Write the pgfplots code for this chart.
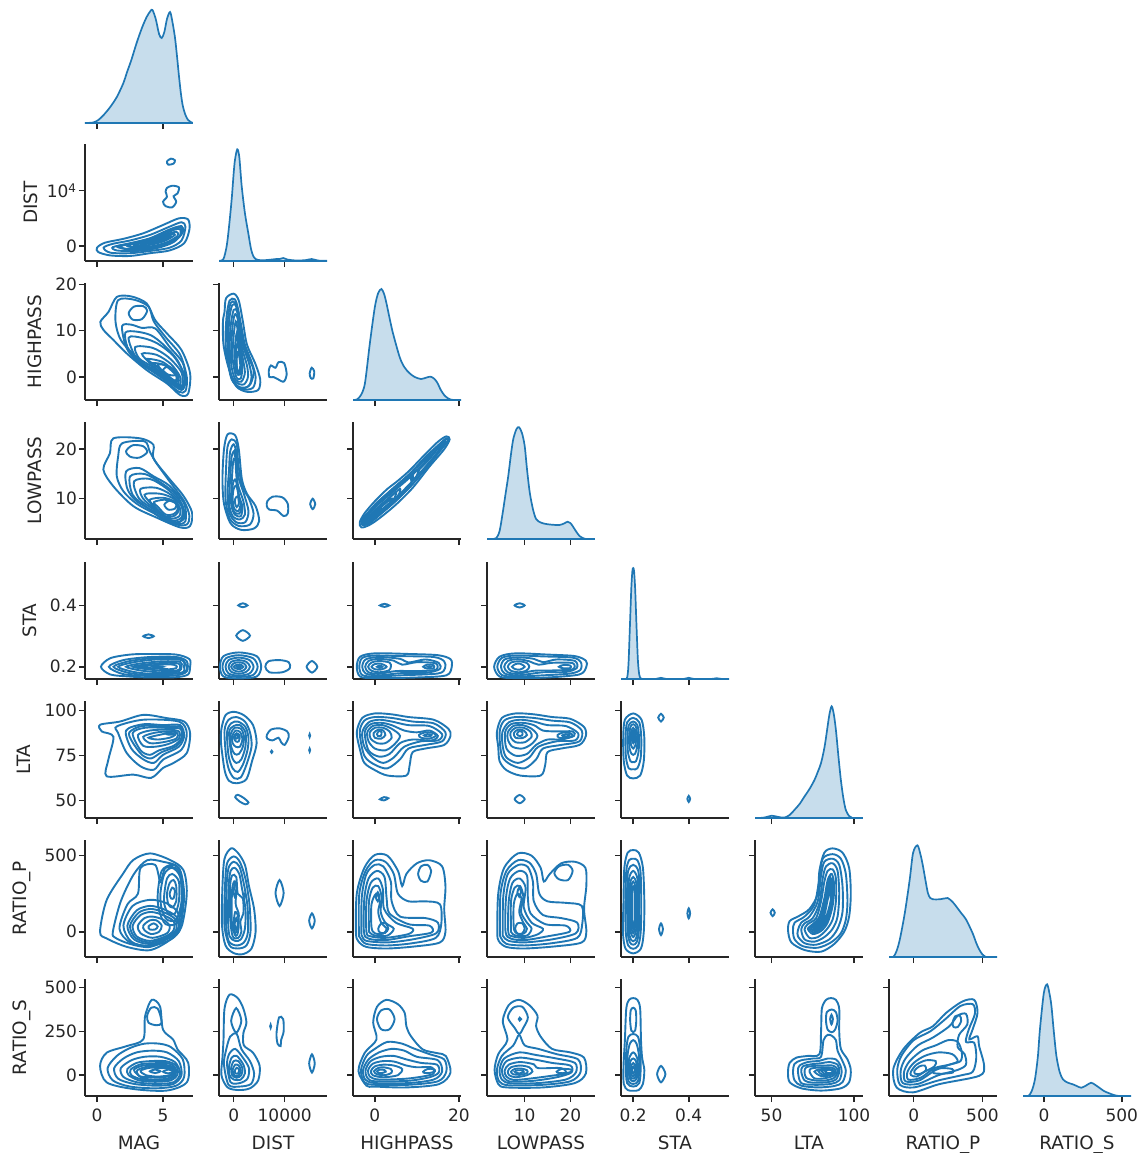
\documentclass[border=0pt]{standalone}
\usepackage{fontspec}
\setmainfont{DejaVu Sans}
\usepackage{pgfplots}
\pgfplotsset{compat=1.18}
\definecolor{sb}{HTML}{1F77B4}
\definecolor{ax}{HTML}{262626}
\pgfplotsset{
 pp/.style={scale only axis, width=54pt, height=58.5pt, anchor=north west,
   axis x line*=bottom, axis y line*=left, axis line style={-, line width=0.9pt, ax},
   tick align=outside, major tick length=3pt, tick style={line width=0.75pt, ax},
   ticklabel style={font=\fontsize{8.5}{9}\selectfont, text=ax},
   yticklabel style={inner xsep=0.8pt},
   label style={font=\fontsize{9.2}{10}\selectfont, text=ax},
   ylabel style={inner sep=5.8pt},
   /pgf/number format/assume math mode=true, /pgf/number format/1000 sep={},
   scaled ticks=false, xticklabels={}, yticklabels={}},
 dg/.style={pp, axis y line=none, ymin=0, ymax=117},
 cl/.style={draw=sb, line width=0.95pt, smooth cycle, tension=0.5},
 kd/.style={draw=sb, fill=sb!25, line width=0.85pt, smooth, tension=0.5},
 c1/.style={xmin=-0.91,xmax=7.27,xtick={0,5}},
 c2/.style={xmin=-2880,xmax=18300,xtick={0,10000}},
 c3/.style={xmin=-5.2,xmax=20.5,xtick={0,20}},
 c4/.style={xmin=1.74,xmax=25.4,xtick={10,20}},
 c5/.style={xmin=0.156,xmax=0.545,xtick={0.2,0.4}},
 c6/.style={xmin=40,xmax=105.4,xtick={50,100}},
 c7/.style={xmin=-180,xmax=606,xtick={0,500}},
 c8/.style={xmin=-136,xmax=559,xtick={0,500}},
 r2/.style={ymin=-2710,ymax=18440,ytick={0,10000}},
 r3/.style={ymin=-4.97,ymax=20.3,ytick={0,10,20}},
 r4/.style={ymin=1.86,ymax=25.5,ytick={10,20}},
 r5/.style={ymin=0.16,ymax=0.543,ytick={0.2,0.4}},
 r6/.style={ymin=40.4,ymax=105.4,ytick={50,75,100}},
 r7/.style={ymin=-166,ymax=603,ytick={0,500}},
 r8/.style={ymin=-119,ymax=549,ytick={0,250,500}},
}
\begin{document}
\begin{tikzpicture}
\useasboundingbox (0pt,0pt) rectangle (572.5pt,-576.5pt);
% ---------- Row 1
\begin{axis}[dg, c1, at={(42.5pt,-3pt)}]
\addplot[kd] coordinates {(-0.91,0)(-0.3,0.5)(0.1,3)(0.5,8)(1.0,16)(1.5,26)(2.0,40)(2.25,50)(2.6,63)(3.0,80)(3.4,95)(3.76,106)(4.05,112)(4.2,113)(4.45,104)(4.7,89)(4.9,85)(5.1,91)(5.3,104)(5.53,111)(5.7,102)(5.9,86)(6.05,68)(6.2,48)(6.35,30)(6.5,17)(6.7,8)(6.9,3)(7.1,1)(7.27,0)} \closedcycle;
\end{axis}
% ---------- Row 2
\begin{axis}[pp, c1, r2, at={(42.5pt,-72pt)}, ylabel={DIST}, ylabel style={inner sep=3.4pt}, yticklabels={0,10\textsuperscript{4}}]
\addplot[cl] coordinates {(0,-300)(0.6,600)(2,1300)(3.5,2300)(5,3800)(6.2,5000)(6.9,4800)(7,3000)(6.6,500)(5.5,-800)(4,-1300)(2.5,-1800)(1,-1700)(0.1,-1100)};
\addplot[cl] coordinates {(0.5,-300)(1.2,400)(2.5,1000)(4,2000)(5.5,3500)(6.4,4300)(6.7,3500)(6.4,1000)(5.5,-300)(4,-900)(2.5,-1300)(1,-1200)};
\addplot[cl] coordinates {(1.2,-200)(2.5,500)(4,1400)(5.5,3000)(6.4,3600)(6.5,2500)(5.8,700)(4.5,-400)(3,-900)(1.5,-800)};
\addplot[cl] coordinates {(1.5,-100)(2.7,550)(4.2,1450)(5.6,2950)(6.35,3300)(6.35,2000)(5.4,450)(4,-400)(2.6,-700)};
\addplot[cl] coordinates {(1.8,0)(3,600)(4.5,1500)(5.8,2900)(6.3,3000)(6.2,1600)(5,200)(3.5,-400)(2.2,-500)};
\addplot[cl] coordinates {(2.3,100)(3.5,700)(5,1800)(6,2600)(6.1,1800)(5.2,600)(4,-100)(2.7,-200)};
\addplot[cl] coordinates {(2.8,200)(4,900)(5.5,2200)(5.9,2000)(5.1,900)(4,200)(3,0)};
\addplot[cl] coordinates {(3.3,400)(4.3,1000)(5.3,1800)(5.6,1700)(4.8,900)(3.8,400)};
\addplot[cl] coordinates {(3.6,600)(4.4,1150)(5.2,1750)(5.4,1700)(4.7,1050)(3.9,600)};
\addplot[cl] coordinates {(3.8,800)(4.4,1300)(4.7,1300)(4.3,900)};
\addplot[cl] coordinates {(4.9,1700)(5.5,2300)(5.8,2300)(5.3,1700)};
\addplot[cl] coordinates {(5.3,15300)(5.6,15800)(5.9,15500)(5.8,14900)(5.4,14700)};
\addplot[cl] coordinates {(5.3,10500)(5.7,10900)(6.2,10600)(6.1,9500)(5.8,9000)(6.0,8000)(5.7,7000)(5.2,7200)(5.0,8000)(5.3,8900)(5.2,9800)};
\end{axis}
\begin{axis}[dg, c2, at={(109.5pt,-72pt)}]
\addplot[kd] coordinates {(-2880,0)(-2700,0.3)(-2000,2)(-1370,15)(-900,35)(-390,62)(0,88)(250,101)(700,111.7)(1100,104)(1570,75)(2200,48)(2860,28)(3400,12)(3840,5)(4300,2)(4820,1)(6000,0.8)(7500,1.5)(8430,2)(9000,2)(9725,3)(10500,1.5)(12000,0.6)(14000,0.8)(15290,2)(16500,0.5)(18300,0.2)} \closedcycle;
\end{axis}
% ---------- Row 3
\begin{axis}[pp, c1, r3, at={(42.5pt,-141.5pt)}, ylabel={HIGHPASS}, yticklabels={0,10,20}]
\addplot[cl] coordinates {(0.25,11.9)(0.88,14.1)(1.5,17.3)(2.6,17.4)(3.76,15.9)(4.4,12.3)(5.3,9.4)(6.4,5.8)(7.05,0.8)(6.9,-3.6)(6.3,-3.9)(5.3,-1.4)(3.76,1.5)(2.25,5.1)(1.24,8.0)(0.48,10.2)};
\addplot[cl] coordinates {(1.6,16.6)(2.8,16.7)(3.9,15.2)(4.3,12)(5.2,8.6)(6.3,4.8)(6.8,0)(6.7,-3)(6.2,-3.2)(5.2,-0.8)(3.9,2)(2.8,4.8)(1.8,8)(1.4,12)};
\addplot[cl] coordinates {(2.4,13.8)(2.8,15.2)(3.5,15.3)(3.8,14.3)(3.4,12.5)(2.7,12.4)};
\addplot[cl] coordinates {(1.9,11)(2.6,11.3)(3.4,10.6)(4.4,10.5)(5.5,6.5)(6.5,3)(6.7,-1)(6.4,-2.8)(5.5,-1.2)(4.2,1.2)(3,3.5)(2.2,6.5)};
\addplot[cl] coordinates {(2.15,9.6)(3,9.8)(4.1,9)(5.1,6.8)(6.1,3.6)(6.65,-0.3)(6.45,-2.6)(5.55,-1.1)(4.2,1.5)(3,3.8)(2.3,6.5)};
\addplot[cl] coordinates {(2.4,8.5)(3.5,8.4)(4.6,7.2)(5.8,4.5)(6.6,0.5)(6.4,-2.4)(5.6,-1)(4.2,1.8)(3,4)};
\addplot[cl] coordinates {(2.9,6.5)(4.2,6.3)(5.4,4.3)(6.4,1)(6.4,-2)(5.5,-0.6)(4.2,2.2)(3.2,4)};
\addplot[cl] coordinates {(3.4,5)(4.5,4.8)(5.6,2.8)(6.3,0)(6.2,-1.8)(5.3,0)(4.2,2.5)};
\addplot[cl] coordinates {(3.8,3.9)(5.0,3.2)(6.1,0.5)(6.1,-1.5)(5.3,0.3)(4.4,2.5)};
\addplot[cl] coordinates {(4.2,3)(5.1,2.6)(6.0,0.3)(6.0,-1.2)(5.3,0.5)(4.6,2.2)};
\addplot[cl] coordinates {(4.6,2.6)(5.2,2.5)(5.95,0.8)(5.95,-0.8)(5.2,0.6)};
\addplot[cl] coordinates {(5.0,1.5)(5.4,2.3)(5.9,1.4)(5.9,0.4)(5.4,0.5)};
\end{axis}
\begin{axis}[pp, c2, r3, at={(109.5pt,-141.5pt)}]
\addplot[cl] coordinates {(-1800,14)(-1500,17)(0,18)(1000,16.5)(1800,12)(2600,7)(4200,3)(5200,-0.5)(4800,-2.8)(2600,-3.2)(500,-2)(-1000,2)(-2000,7)(-2100,12)};
\addplot[cl] coordinates {(-1400,13)(-800,16.5)(200,16.8)(800,15)(1500,11)(2200,7)(3600,3)(4300,0)(3800,-2.3)(2000,-2.7)(200,-1.5)(-1000,2.5)(-1600,7)};
\addplot[cl] coordinates {(-1150,12.5)(-600,16)(300,16)(1000,13)(1700,8.8)(2600,5)(3900,1.5)(3300,-1.5)(1600,-2.5)(-100,-1)(-1050,3.3)(-1300,9)};
\addplot[cl] coordinates {(-900,12)(-300,15.5)(500,15.2)(1200,11)(1900,6.5)(3000,3)(3500,0)(2900,-2)(1200,-2.2)(-400,-0.5)(-1100,4)};
\addplot[cl] coordinates {(-600,11)(0,14.5)(700,14)(1100,10)(1700,6)(2600,2.5)(2800,0)(2000,-1.6)(500,-1.2)(-700,1)(-800,6)};
\addplot[cl] coordinates {(-300,10)(200,13.5)(800,12.5)(1100,8)(1700,4.5)(2200,1)(1500,-1)(300,-0.5)(-500,3)};
\addplot[cl] coordinates {(0,9)(400,12)(800,10)(1200,6)(1700,2.5)(1400,-0.3)(500,0)(-200,4)};
\addplot[cl] coordinates {(300,7)(600,9.5)(900,7)(1400,3)(1200,0.5)(500,1)(200,4)};
\addplot[cl] coordinates {(450,5.5)(800,7.5)(1000,6)(1500,2.8)(1300,0.8)(700,1.5)};
\addplot[cl] coordinates {(600,4)(900,5.5)(1300,2.5)(1000,1)(600,2)};
\addplot[cl] coordinates {(6900,1.5)(7300,2.5)(8200,2)(8800,3.2)(9900,3)(10400,0.5)(9800,-1)(8700,-0.5)(7800,0)(7000,0)};
\addplot[cl] coordinates {(14900,0.8)(15300,2.0)(15800,1.2)(15600,-0.3)(15100,-0.2)};
\end{axis}
\begin{axis}[dg, c3, at={(176.5pt,-141.5pt)}]
\addplot[kd] coordinates {(-5.2,0)(-4.3,0.5)(-3.3,5)(-2.35,17)(-1.18,57)(0,93)(0.8,107)(1.57,111)(2.2,106)(2.75,97)(3.5,82)(4.3,67)(5.9,43)(7,33)(8.2,27)(9.5,23)(11,21)(12.3,22.5)(13.3,23.3)(14.2,21)(14.9,17)(15.7,10)(16.5,5)(17.3,2)(18,0.5)(19,0)(20.5,0)} \closedcycle;
\end{axis}
% ---------- Row 4
\begin{axis}[pp, c1, r4, at={(42.5pt,-211pt)}, ylabel={LOWPASS}, yticklabels={10,20}]
\addplot[cl] coordinates {(1.24,22.2)(3.27,22.2)(4.27,20.9)(4.27,18.2)(5.3,14.6)(6.54,10.6)(7.2,7.2)(7.05,4.5)(6.3,4.2)(4.5,6.2)(2.75,8.5)(1.24,12.5)(0.48,15.9)(0.98,19.2)};
\addplot[cl] coordinates {(2.2,19.6)(2.7,20.8)(3.5,20.6)(3.8,19.4)(3.2,18.3)(2.5,18.5)};
\addplot[cl] coordinates {(1.9,21.2)(3.6,21.6)(4.0,19.5)(4.5,17.2)(5.5,13.5)(6.6,9.5)(7.0,6.5)(6.8,4.8)(6.0,4.8)(4.5,6.8)(3,9)(2,11.5)(1.5,14.5)(1.6,18.5)};
\addplot[cl] coordinates {(2.2,15.5)(3.2,16.2)(4.3,14.5)(5.5,12.6)(6.6,9)(6.7,5.5)(6,5)(4.5,7.2)(3,9.5)(2.3,12)};
\addplot[cl] coordinates {(2.5,14.5)(3.6,15)(4.8,13.3)(6,10.8)(6.6,7.5)(6.2,5.1)(5.2,5.5)(3.8,8.2)(2.7,10.8)};
\addplot[cl] coordinates {(2.8,13.5)(4,14)(5.3,12)(6.4,9)(6.6,6)(5.8,5.3)(4.5,7.5)(3.2,10)};
\addplot[cl] coordinates {(3.3,12)(4.5,12.2)(5.6,10.8)(6.4,8.5)(6.4,6.2)(5.6,5.6)(4.4,7.9)(3.5,10)};
\addplot[cl] coordinates {(3.6,10.8)(4.8,11)(5.8,10)(6.3,8)(6.2,6.4)(5.4,6)(4.5,8)};
\addplot[cl] coordinates {(4.0,9.8)(5,10.2)(5.9,9.4)(6.2,7.8)(5.9,6.6)(5.2,6.4)(4.4,8.3)};
\addplot[cl] coordinates {(4.3,9.3)(5.1,9.8)(5.9,9.2)(6.1,7.8)(5.8,6.9)(5.2,6.8)(4.6,8.4)};
\addplot[cl] coordinates {(5.1,8.8)(5.5,9.6)(6,9)(5.9,8)(5.4,7.8)};
\addplot[cl] coordinates {(4.1,8.7)(4.2,8.9)(4.3,8.7)(4.2,8.5)};
\end{axis}
\begin{axis}[pp, c2, r4, at={(109.5pt,-211pt)}]
\addplot[cl] coordinates {(-1900,20)(-1200,23)(300,22.8)(1000,20)(1600,14)(2600,11)(4300,8.5)(5000,5.5)(4000,4)(1500,3.7)(-600,5)(-1900,9)(-2200,14)};
\addplot[cl] coordinates {(-1200,20.5)(-400,22)(600,21)(900,17)(1700,12.5)(3000,10)(3900,7)(3200,4.8)(1000,4.5)(-800,6)(-1600,10)(-1500,16)};
\addplot[cl] coordinates {(-700,19.5)(0,21)(600,19)(900,14.5)(2000,11)(2900,7.5)(2300,5.3)(600,5.2)(-800,7)(-1200,11)(-900,16)};
\addplot[cl] coordinates {(-400,18.5)(200,19.6)(600,17)(800,13)(1900,9.5)(2200,6.8)(1200,5.8)(-200,6.5)(-900,9)(-700,14)};
\addplot[cl] coordinates {(-100,17.5)(300,18)(500,15)(900,11)(1700,8.5)(1400,6.5)(200,6.8)(-500,9)(-400,13)};
\addplot[cl] coordinates {(100,19.2)(200,19.6)(350,19.2)(200,18.8)};
\addplot[cl] coordinates {(-150,13)(400,13.8)(1000,10.5)(1500,8.2)(1100,7)(100,7.3)(-350,9.5)};
\addplot[cl] coordinates {(0,12)(600,12.5)(1300,9)(900,7.5)(100,8)(-200,10)};
\addplot[cl] coordinates {(300,10)(800,10.5)(1000,9)(600,8.3)(300,9)};
\addplot[cl] coordinates {(6600,9.5)(7600,10.4)(9500,10.3)(10600,9)(10600,7)(9800,6.5)(8500,7.6)(7000,7.8)(6500,8.5)};
\addplot[cl] coordinates {(15000,8.9)(15500,10)(16000,8.9)(15500,7.9)};
\end{axis}
\begin{axis}[pp, c3, r4, at={(176.5pt,-211pt)}]
\addplot[cl] coordinates {(-3.6,5.2)(-2.5,7)(0,9.5)(3,12)(5,13.3)(8,15.5)(12,19)(15,21.5)(17,22.6)(17.8,22)(16.5,20)(13,16.5)(9,12.2)(5,8.8)(1,6)(-1.5,4.6)(-3.2,4.2)};
\addplot[cl] coordinates {(-3.3,5.5)(-1,7.8)(2,10.3)(5,12.6)(8.3,15)(12,18)(15,20.7)(17,22.2)(17.4,21.7)(15.5,19.8)(12.8,16.8)(9,13)(5,9.6)(1,6.6)(-1.8,4.8)};
\addplot[cl] coordinates {(-3,5.4)(0,8.8)(4,11.8)(8,14.8)(12.5,18.8)(16.8,22)(17.2,21.5)(13,17)(8.5,12.5)(4,8.8)(0,6.2)(-2.5,4.6)};
\addplot[cl] coordinates {(-2.8,5.5)(0,8.5)(3.8,11.3)(7.5,14)(10,15.8)(9.8,14.4)(6,11)(2,7.8)(-2.3,4.8)};
\addplot[cl] coordinates {(-2.5,5.6)(0,8.2)(3.5,10.8)(7,13.3)(9,14.7)(8.5,13)(4,9.2)(0,6.5)(-2.2,5)};
\addplot[cl] coordinates {(-2.1,5.7)(0,7.7)(3,9.9)(5,11.4)(4.7,10.2)(2.5,8.4)(0,6.6)(-1.9,5.2)};
\addplot[cl] coordinates {(-1.8,5.8)(0.5,8)(3.5,10.2)(6,12)(5.5,10.6)(3,8.7)(0.2,6.8)(-1.6,5.4)};
\addplot[cl] coordinates {(-1.2,6.1)(1,8)(3.5,9.9)(4.2,9.8)(2.5,8.1)(0.3,6.5)(-1.1,5.7)};
\addplot[cl] coordinates {(-0.8,6.5)(1.5,8.3)(3.5,9.7)(3.6,9)(1.5,7.6)(-0.6,6.2)};
\addplot[cl] coordinates {(0,6.9)(1.5,8)(2,7.7)(0.5,6.7)};
\addplot[cl] coordinates {(9,14.8)(13,18.4)(16.3,21.5)(16.6,21.2)(13,17.4)(9,13.7)};
\addplot[cl] coordinates {(10.5,15.8)(13,18)(15.5,20.6)(15.8,20.3)(13.2,17.4)(10.7,15.2)};
\end{axis}
\begin{axis}[dg, c4, at={(243.5pt,-211pt)}]
\addplot[kd] coordinates {(1.74,0)(3.2,0)(3.8,1)(4.5,8)(5.2,26.7)(5.8,45)(6.4,63)(7.0,85)(7.5,100)(8.2,110)(8.77,111.7)(9.4,106)(10,93)(10.5,70)(11.1,46.7)(11.8,30)(12.5,20)(13.5,16.5)(14.7,15)(16,14.3)(17.6,14)(18.6,15.5)(19.4,17.3)(20,16)(20.5,13)(21.2,8)(22,3)(22.7,1)(23.4,0)(25.4,0)} \closedcycle;
\end{axis}
% ---------- Row 5
\begin{axis}[pp, c1, r5, at={(42.5pt,-281pt)}, ylabel={STA}, yticklabels={0.2,0.4}]
\addplot[cl] coordinates {(0.3,0.2)(1,0.228)(2.5,0.24)(4,0.242)(6,0.24)(7,0.225)(7.05,0.2)(6.9,0.175)(6,0.166)(4,0.165)(2.5,0.168)(1,0.175)};
\addplot[cl] coordinates {(0.9,0.2)(2,0.222)(4,0.232)(6,0.232)(6.8,0.218)(6.8,0.185)(6,0.172)(4,0.17)(2,0.176)};
\addplot[cl] coordinates {(1.25,0.2)(2.4,0.218)(4.2,0.228)(6.2,0.227)(6.7,0.21)(6.6,0.183)(4.2,0.173)(2.4,0.18)};
\addplot[cl] coordinates {(1.6,0.2)(2.8,0.215)(4.5,0.224)(6.4,0.222)(6.6,0.2)(6.4,0.18)(4.5,0.176)(2.8,0.183)};
\addplot[cl] coordinates {(2.2,0.2)(3.3,0.211)(5,0.218)(6.3,0.216)(6.4,0.2)(6.2,0.185)(5,0.181)(3.3,0.188)};
\addplot[cl] coordinates {(2.7,0.2)(3.8,0.208)(5.2,0.213)(6.2,0.21)(6.2,0.19)(5.2,0.186)(3.8,0.192)};
\addplot[cl] coordinates {(3.2,0.2)(4.2,0.205)(5.5,0.208)(6,0.204)(6,0.196)(5.5,0.192)(4.2,0.195)};
\addplot[cl] coordinates {(4.2,0.2)(4.6,0.202)(5.0,0.2)(4.6,0.198)};
\addplot[cl] coordinates {(3.5,0.3)(3.9,0.306)(4.3,0.3)(3.9,0.294)};
\end{axis}
\begin{axis}[pp, c2, r5, at={(109.5pt,-281pt)}]
\addplot[cl] coordinates {(-2700,0.2)(-2000,0.235)(1000,0.247)(4500,0.235)(5400,0.2)(4500,0.168)(1000,0.162)(-2000,0.168)};
\addplot[cl] coordinates {(-2200,0.2)(-1500,0.228)(1000,0.238)(3800,0.228)(4700,0.2)(3800,0.173)(1000,0.167)(-1500,0.173)};
\addplot[cl] coordinates {(-1600,0.2)(-1000,0.222)(1000,0.23)(3100,0.222)(3900,0.2)(3100,0.178)(1000,0.171)(-1000,0.178)};
\addplot[cl] coordinates {(-1000,0.2)(-500,0.216)(1000,0.222)(2500,0.216)(3200,0.2)(2500,0.184)(1000,0.177)(-500,0.184)};
\addplot[cl] coordinates {(-500,0.2)(0,0.211)(1000,0.215)(2000,0.211)(2500,0.2)(2000,0.189)(1000,0.184)(0,0.189)};
\addplot[cl] coordinates {(0,0.2)(500,0.206)(1200,0.208)(1900,0.2)(1200,0.192)(500,0.194)};
\addplot[cl] coordinates {(600,0.2)(1000,0.203)(1400,0.2)(1000,0.197)};
\addplot[cl] coordinates {(500,0.302)(1800,0.32)(3200,0.302)(1800,0.285)};
\addplot[cl] coordinates {(900,0.401)(1800,0.408)(2700,0.401)(1800,0.395)};
\addplot[cl] coordinates {(6200,0.2)(6800,0.218)(9000,0.222)(10800,0.215)(11000,0.195)(9500,0.182)(7000,0.182)};
\addplot[cl] coordinates {(14300,0.2)(15350,0.219)(16400,0.2)(15350,0.181)};
\end{axis}
\begin{axis}[pp, c3, r5, at={(176.5pt,-281pt)}]
\addplot[cl] coordinates {(-4.3,0.2)(-3.5,0.233)(0,0.244)(8,0.242)(15,0.238)(18,0.225)(18.3,0.2)(17,0.172)(10,0.165)(0,0.163)(-3.5,0.168)};
\addplot[cl] coordinates {(-3.7,0.2)(-3,0.229)(0,0.237)(6,0.235)(14,0.232)(16.5,0.218)(16.7,0.195)(15,0.178)(6,0.172)(0,0.168)(-3,0.173)};
\addplot[cl] coordinates {(-3,0.2)(-2.2,0.224)(1,0.232)(6,0.226)(8,0.214)(12,0.224)(15.2,0.213)(15.4,0.192)(12,0.18)(6,0.179)(1,0.172)(-2.2,0.178)};
\addplot[cl] coordinates {(-2.3,0.2)(-1.5,0.219)(1,0.226)(4.5,0.22)(6.5,0.207)(10,0.215)(14.5,0.211)(14.5,0.19)(10,0.186)(5,0.186)(1,0.177)(-1.5,0.182)};
\addplot[cl] coordinates {(-1.6,0.2)(-0.8,0.214)(1,0.219)(3.5,0.214)(3.8,0.2)(3.3,0.188)(1,0.182)(-0.8,0.187)};
\addplot[cl] coordinates {(-0.8,0.2)(0,0.209)(1.5,0.21)(2.8,0.2)(1.5,0.191)(0,0.192)};
\addplot[cl] coordinates {(0.5,0.2)(1.2,0.204)(1.8,0.2)(1.2,0.196)};
\addplot[cl] coordinates {(11.5,0.2)(12.5,0.207)(14,0.205)(14,0.195)(12.5,0.194)};
\addplot[cl] coordinates {(12.6,0.2)(13,0.202)(13.4,0.2)(13,0.198)};
\addplot[cl] coordinates {(1.2,0.401)(2.3,0.406)(3.4,0.401)(2.3,0.396)};
\end{axis}
\begin{axis}[pp, c4, r5, at={(243.5pt,-281pt)}]
\addplot[cl] coordinates {(3.3,0.2)(4.5,0.233)(8,0.244)(15,0.24)(21,0.235)(23.4,0.22)(23.5,0.2)(22,0.175)(15,0.165)(8,0.163)(4.5,0.168)};
\addplot[cl] coordinates {(4,0.2)(5,0.229)(8,0.237)(14,0.234)(20.5,0.23)(22.3,0.215)(22.2,0.19)(20,0.178)(14,0.172)(8,0.168)(5,0.173)};
\addplot[cl] coordinates {(4.8,0.2)(5.6,0.224)(8.5,0.231)(12,0.226)(14,0.215)(17,0.224)(21,0.219)(21.4,0.196)(19,0.183)(14,0.182)(8.5,0.172)(5.6,0.178)};
\addplot[cl] coordinates {(5.5,0.2)(6.3,0.219)(8.5,0.225)(11,0.218)(13,0.207)(16,0.213)(20.5,0.212)(20.5,0.192)(16,0.188)(12,0.187)(8.5,0.177)(6.3,0.182)};
\addplot[cl] coordinates {(6.3,0.2)(7,0.214)(8.8,0.218)(10.5,0.212)(11,0.2)(10.4,0.188)(8.8,0.182)(7,0.187)};
\addplot[cl] coordinates {(7.2,0.2)(8,0.209)(9,0.21)(10,0.2)(9,0.191)(8,0.192)};
\addplot[cl] coordinates {(17.5,0.2)(18.5,0.206)(20,0.204)(20,0.196)(18.5,0.195)};
\addplot[cl] coordinates {(7.8,0.401)(8.9,0.408)(10,0.401)(8.9,0.394)};
\end{axis}
\begin{axis}[dg, c5, at={(310.5pt,-281pt)}]
\addplot[kd] coordinates {(0.156,0)(0.172,0)(0.1786,2)(0.183,15)(0.188,52)(0.193,90)(0.197,108)(0.2,111)(0.203,108)(0.207,90)(0.212,52)(0.217,18)(0.222,4)(0.228,0.5)(0.24,0)(0.28,0)(0.3,1.2)(0.32,0)(0.38,0)(0.4,1.2)(0.42,0)(0.48,0)(0.5,0.8)(0.52,0)(0.545,0)} \closedcycle;
\end{axis}
% ---------- Row 6
\begin{axis}[pp, c1, r6, at={(42.5pt,-350.5pt)}, ylabel={LTA}, yticklabels={50,75,100}]
\addplot[cl] coordinates {(0.23,92.2)(1.74,94)(3.5,97.7)(5.27,95.9)(6.6,94)(7.05,87.6)(6.8,76.5)(5.8,71)(5.0,68.2)(4.1,62.7)(2.75,64.5)(0.73,63.6)(0.86,72.8)(1.24,85.6)(0.36,88.5)};
\addplot[cl] coordinates {(1.5,91.3)(3.5,95)(6.2,94)(6.8,87.6)(6.4,78.4)(5.0,72.8)(4.3,67.2)(3.3,69.1)(2.25,76.5)(1.6,87.6)};
\addplot[cl] coordinates {(2.2,89)(3.5,92.5)(5,92)(6.3,92)(6.6,86)(6.2,80)(5,75.5)(4.3,71)(3.5,73)(2.6,79)};
\addplot[cl] coordinates {(2.45,88)(3.4,91.5)(5.1,91.2)(6.3,91)(6.5,85.5)(6,80.3)(4.9,77)(4.1,73.5)(3.4,75.5)(2.65,83)};
\addplot[cl] coordinates {(2.7,87.5)(3.6,90.5)(5.2,90.5)(6.3,90)(6.4,85)(5.8,80.5)(4.7,78)(4,75.5)(3.3,78)};
\addplot[cl] coordinates {(3.1,86.5)(4,89)(5.4,89.5)(6.2,88.5)(6.2,84.5)(5.4,81.5)(4.4,80)(3.5,80.5)};
\addplot[cl] coordinates {(3.5,85.5)(4.4,87.8)(5.6,88.6)(6.1,87.5)(6,84.5)(5,82.5)(4,82)};
\addplot[cl] coordinates {(3.9,85)(4.8,86.7)(5.6,87.7)(5.9,86.5)(5.5,85)(4.6,84)};
\addplot[cl] coordinates {(5.2,87.5)(5.6,88.5)(6,88)(5.9,86.8)(5.4,86.7)};
\end{axis}
\begin{axis}[pp, c2, r6, at={(109.5pt,-350.5pt)}]
\addplot[cl] coordinates {(-2400,90)(-1600,97.5)(0,99.4)(2000,97.5)(3800,92)(4500,82)(3600,72)(2500,62)(600,59.7)(-900,61)(-1700,66)(-2200,75)(-2500,83)};
\addplot[cl] coordinates {(-1800,89)(-1000,95)(500,96.5)(2200,94)(3200,88)(3500,80)(2500,70)(1400,63)(100,62.5)(-900,67)(-1500,75)};
\addplot[cl] coordinates {(-1300,88)(-500,93)(800,94)(2300,91)(2900,85)(2700,78)(1800,70)(800,66)(-200,68)(-1000,75)};
\addplot[cl] coordinates {(-900,88)(0,91.5)(1200,92)(2300,88)(2300,80)(1500,73)(500,71)(-400,75)};
\addplot[cl] coordinates {(-600,87)(200,90.5)(1400,90)(2000,86)(1800,80)(1000,76)(200,76)(-500,80)};
\addplot[cl] coordinates {(-300,86)(400,89)(1300,88)(1700,84)(1200,80)(400,80)(-200,82)};
\addplot[cl] coordinates {(0,85.5)(600,87.5)(1200,86)(1000,83)(400,83)};
\addplot[cl] coordinates {(300,85.5)(700,86.8)(900,85)(500,84.5)};
\addplot[cl] coordinates {(300,52)(800,53.3)(2000,51.5)(2900,49)(2300,48)(1200,49.5)};
\addplot[cl] coordinates {(6500,86.5)(7300,89.5)(9000,90.2)(10500,88.5)(10800,85.5)(10000,81)(9300,82.5)(8800,85)(7600,83.5)(6600,84.5)};
\addplot[cl] coordinates {(7300,77.2)(7450,77.8)(7600,77.2)(7450,76.6)};
\addplot[cl] coordinates {(14800,86.2)(14900,87)(15000,86.2)(14900,85.4)};
\addplot[cl] coordinates {(14800,78.1)(14900,78.9)(15000,78.1)(14900,77.3)};
\end{axis}
\begin{axis}[pp, c3, r6, at={(176.5pt,-350.5pt)}]
\addplot[cl] coordinates {(-4.3,88)(-3,96)(0,98.5)(4,98)(8,96.5)(14,95)(17.5,90)(18,86)(16.5,81)(12,79)(9,77)(8.3,70)(7.5,64)(3,64)(0,67)(-2.5,71)(-3.5,78)};
\addplot[cl] coordinates {(-3.6,88)(-2.5,94.5)(0,96.5)(4,96)(9,94)(14,93)(16.8,88)(16,83)(12,81)(8,79)(6,73)(3,68)(0,70)(-2.5,75)};
\addplot[cl] coordinates {(-3,88)(-1.5,93.5)(1,95)(4,94)(8,92)(13,91.5)(16,87)(15,83.5)(11,83)(7,80)(4.5,74)(2,71)(-0.5,74)(-2.5,80)};
\addplot[cl] coordinates {(-2.4,88)(-1,92.5)(1.5,93.3)(4,92)(7,89)(10,88)(13,89)(15,86)(13.5,83.5)(9,84)(6,82)(3.5,76)(1,74.5)(-1.5,78)};
\addplot[cl] coordinates {(-1.8,88)(-0.5,91.5)(1.8,92)(4,90)(6,86)(4.5,81)(2.5,78)(0,79)(-1.5,83)};
\addplot[cl] coordinates {(-1.2,88)(0,90.5)(2,90.5)(3.5,88.5)(4,85)(2.5,82)(0.5,82)(-1,84.5)};
\addplot[cl] coordinates {(-0.3,87.5)(0.8,89.5)(2,89)(2.5,86.5)(1.5,84.5)(0,85)};
\addplot[cl] coordinates {(0.5,87)(1,88.8)(1.6,88)(1.4,86)(0.7,86)};
\addplot[cl] coordinates {(10.5,86.5)(12,88)(14,87.5)(14.5,86)(13,84.5)(11,85)};
\addplot[cl] coordinates {(11.7,86.3)(12.5,87)(13.5,86.5)(13,85.7)(12,85.8)};
\addplot[cl] coordinates {(1.2,50.8)(2.2,52)(3.2,51.4)(2.2,50.2)};
\end{axis}
\begin{axis}[pp, c4, r6, at={(243.5pt,-350.5pt)}]
\addplot[cl] coordinates {(3.9,88)(5,96)(8,98.5)(12,98)(16,96.5)(20,95.5)(23,91)(23.4,86)(22,81)(18,79)(15,77)(14.5,70)(13.5,64)(9,64)(6,67)(4.5,72)(4.2,80)};
\addplot[cl] coordinates {(4.5,88)(5.5,94.5)(8,96.5)(12,96)(16,94.5)(20,93.5)(22.5,89)(22,83)(18,81)(14,79)(12.5,73)(10,68)(7,70)(5,75)};
\addplot[cl] coordinates {(5.1,88)(6.5,93.5)(9,95)(12,94)(15,92)(19,91.5)(21.7,87.5)(21,83.5)(17,83)(13,80)(11,74)(8.5,71)(6,74)(5.2,80)};
\addplot[cl] coordinates {(5.7,88)(7,92.5)(9.5,93.3)(12,92)(14,89)(17,88.5)(20.5,88.5)(20.8,86)(18,84)(15,84)(12.5,81)(10.5,76)(8,75)(6,79)};
\addplot[cl] coordinates {(6.3,88)(7.5,91.5)(9.5,92)(11.5,90)(12.8,86)(11.5,81.5)(9.5,79)(7.3,80)(6.3,84)};
\addplot[cl] coordinates {(6.9,88)(8,90.5)(9.8,90.5)(11.2,88.5)(11.5,85.5)(10,82.5)(8,82.5)(7,85)};
\addplot[cl] coordinates {(7.6,87.5)(8.5,89.5)(9.8,89)(10.5,86.5)(9.5,84.8)(8,85)};
\addplot[cl] coordinates {(8.3,87)(8.8,88.7)(9.5,88)(9.4,86.2)(8.6,86.1)};
\addplot[cl] coordinates {(17.2,86.5)(18.5,88)(20,87.5)(20.5,86)(19,84.8)(17.5,85)};
\addplot[cl] coordinates {(18.2,86.3)(19,87)(19.8,86.5)(19.3,85.7)(18.5,85.8)};
\addplot[cl] coordinates {(7.8,50.9)(8.9,53.2)(10,50.9)(8.9,48.6)};
\end{axis}
\begin{axis}[pp, c5, r6, at={(310.5pt,-350.5pt)}]
\addplot[cl] coordinates {(0.164,85)(0.17,95)(0.2,98.5)(0.23,95)(0.24,85)(0.238,72)(0.225,64)(0.2,62.4)(0.178,64)(0.166,72)};
\addplot[cl] coordinates {(0.172,85)(0.178,93.5)(0.2,96)(0.222,93.5)(0.229,85)(0.227,74)(0.215,68)(0.2,67.5)(0.184,68)(0.174,74)};
\addplot[cl] coordinates {(0.179,85)(0.184,92)(0.2,94)(0.215,92)(0.221,85)(0.219,77)(0.21,72)(0.2,71.5)(0.19,72)(0.181,77)};
\addplot[cl] coordinates {(0.185,85)(0.19,91)(0.2,92.5)(0.21,91)(0.215,85)(0.213,79)(0.206,76)(0.2,75.5)(0.194,76)(0.187,79)};
\addplot[cl] coordinates {(0.19,85)(0.194,89.5)(0.2,90.5)(0.206,89.5)(0.21,85)(0.208,81)(0.2,79)(0.192,81)};
\addplot[cl] coordinates {(0.195,85)(0.197,88.5)(0.2,89)(0.203,88.5)(0.205,85)(0.203,82.5)(0.2,82)(0.197,82.5)};
\addplot[cl] coordinates {(0.198,86)(0.2,88)(0.202,86)(0.2,83.5)};
\addplot[cl] coordinates {(0.29,96.2)(0.3,98.3)(0.31,96.2)(0.3,94)};
\addplot[cl] coordinates {(0.395,51)(0.4,52.7)(0.405,51)(0.4,49.3)};
\end{axis}
\begin{axis}[dg, c6, at={(377.5pt,-350.5pt)}]
\addplot[kd] coordinates {(40,0)(45,0.3)(48,1.5)(50,2.3)(53,1.5)(56,0.5)(58,0.5)(61,3)(64,8.3)(67,14)(70,21.6)(73,29)(76,38)(78,46)(80,55)(82,70)(83.4,85)(85,103)(86.4,111.7)(87.7,104)(89,88)(90.5,62)(92,38)(93.5,20)(95,8)(97,2)(99,0)(105.4,0)} \closedcycle;
\end{axis}
% ---------- Row 7
\begin{axis}[pp, c1, r7, at={(42.5pt,-420pt)}, ylabel={RATIO\_P}, yticklabels={0,500}]
\addplot[cl] coordinates {(0.23,0)(0.73,208)(1.99,384)(2.75,472)(4.01,515)(5.53,472)(6.54,406)(6.8,252)(6.4,33)(5.5,-55)(4.0,-121)(2.25,-99)(0.73,-44)};
\addplot[cl] coordinates {(1.2,0)(1.8,200)(2.8,380)(3.8,470)(5,460)(6.2,420)(6.6,250)(6.3,40)(5.4,-40)(4,-100)(2.5,-80)(1.4,-40)};
\addplot[cl] coordinates {(1.7,20)(2.3,180)(3.1,250)(3.3,420)(4.4,440)(4.8,330)(5.2,420)(6.2,400)(6.5,200)(6.2,30)(5.2,-40)(4,-90)(2.5,-70)};
\addplot[cl] coordinates {(4.6,250)(4.9,400)(5.7,440)(6.35,390)(6.45,200)(6.1,60)(5.2,50)(4.7,140)};
\addplot[cl] coordinates {(4.8,250)(5.1,380)(5.7,420)(6.3,360)(6.4,200)(6.0,80)(5.3,80)(4.9,150)};
\addplot[cl] coordinates {(5.1,250)(5.3,350)(5.7,380)(6.2,330)(6.2,200)(5.9,120)(5.4,120)(5.1,180)};
\addplot[cl] coordinates {(5.3,250)(5.5,320)(5.8,340)(6.0,300)(6.0,200)(5.7,160)(5.4,180)};
\addplot[cl] coordinates {(5.5,250)(5.7,290)(5.9,270)(5.8,220)(5.6,220)};
\addplot[cl] coordinates {(2.0,40)(2.7,170)(4,210)(5.2,190)(6.1,130)(6.3,20)(5.6,-50)(4,-95)(2.6,-65)};
\addplot[cl] coordinates {(2.3,40)(3,140)(4,170)(5,150)(6,100)(6.2,20)(5.5,-40)(4,-80)(2.8,-50)};
\addplot[cl] coordinates {(2.5,40)(3.15,125)(4.05,150)(5,130)(5.9,85)(6,15)(5.35,-35)(4,-70)(2.9,-40)};
\addplot[cl] coordinates {(2.7,40)(3.3,110)(4.1,130)(5,110)(5.8,70)(5.8,10)(5.2,-30)(4,-60)(3,-30)};
\addplot[cl] coordinates {(3.1,40)(3.6,90)(4.2,100)(5,80)(5.5,40)(5.3,-10)(4.2,-40)(3.3,-10)};
\addplot[cl] coordinates {(3.5,40)(4,75)(4.5,75)(4.9,40)(4.7,0)(4.1,-15)(3.6,10)};
\addplot[cl] coordinates {(3.9,35)(4.3,55)(4.6,35)(4.4,15)(4,15)};
\end{axis}
\begin{axis}[pp, c2, r7, at={(109.5pt,-420pt)}]
\addplot[cl] coordinates {(-2200,300)(-1800,480)(-500,548)(800,520)(2200,440)(3000,300)(4000,150)(4300,0)(3500,-110)(1800,-147)(0,-140)(-1600,-90)(-2300,50)};
\addplot[cl] coordinates {(-1700,300)(-1300,450)(0,495)(1200,460)(2300,350)(3100,180)(3300,0)(2500,-90)(800,-110)(-800,-90)(-1800,40)};
\addplot[cl] coordinates {(-1400,300)(-1000,420)(0,460)(1100,430)(1900,330)(2700,170)(2800,0)(2000,-70)(500,-90)(-1000,-60)(-1500,60)};
\addplot[cl] coordinates {(-1000,300)(-600,400)(200,420)(1100,380)(1600,290)(2300,150)(2200,20)(1400,-50)(300,-60)(-800,-30)(-1100,80)};
\addplot[cl] coordinates {(-700,300)(-300,370)(500,360)(800,250)(1800,220)(1900,120)(1300,70)(1500,0)(900,-40)(-200,-30)(-700,100)};
\addplot[cl] coordinates {(-300,280)(100,330)(500,300)(400,180)(1000,120)(800,40)(300,-10)(-300,30)(-400,150)};
\addplot[cl] coordinates {(0,60)(300,130)(800,110)(1000,40)(700,-20)(200,-20)};
\addplot[cl] coordinates {(200,50)(500,90)(800,50)(500,10)};
\addplot[cl] coordinates {(0,260)(300,330)(600,290)(400,220)};
\addplot[cl] coordinates {(2120,241)(2220,250)(2320,241)(2220,232)};
\addplot[cl] coordinates {(8200,255)(9000,340)(9800,255)(9000,169)};
\addplot[cl] coordinates {(14800,72)(15350,121)(15900,72)(15350,22)};
\end{axis}
\begin{axis}[pp, c3, r7, at={(176.5pt,-420pt)}]
\addplot[cl] coordinates {(-4.5,0)(-4.3,250)(-2.5,420)(0,505)(3,500)(5.5,400)(6.5,300)(7.5,380)(10,450)(13,470)(16,430)(16.8,300)(16.5,150)(16.8,0)(15.5,-70)(10,-95)(3,-110)(-2,-100)(-4,-60)};
\addplot[cl] coordinates {(10.3,380)(11,430)(12.5,440)(13.4,400)(12.5,330)(11,335)};
\addplot[cl] coordinates {(-3.8,0)(-3.7,250)(-2.2,400)(0,470)(2.5,460)(4.5,380)(5.5,250)(8,200)(12,200)(15.5,180)(15.8,50)(14.5,-40)(9,-75)(3,-90)(-2,-80)(-3.5,-40)};
\addplot[cl] coordinates {(-3.2,0)(-3.1,230)(-2,380)(0,440)(2,430)(3.8,330)(4,200)(6,100)(12,90)(15,60)(14.6,-10)(9,-50)(3,-70)(-2,-60)(-3,-30)};
\addplot[cl] coordinates {(-2.6,0)(-2.5,220)(-1.5,350)(0.5,400)(2.3,360)(2.8,220)(3.5,120)(8,50)(13,40)(13.5,-5)(8,-30)(2.5,-55)(-1.5,-45)};
\addplot[cl] coordinates {(-2,0)(-2,200)(-1,320)(0.8,350)(1.9,280)(2.2,150)(5,60)(9,20)(8,-15)(2.5,-40)(-1,-30)};
\addplot[cl] coordinates {(-1.4,20)(-1.4,200)(-0.5,290)(0.8,300)(1.6,230)(1.4,130)(2.5,60)(4.5,20)(3,-25)(0,-25)(-1.2,-5)};
\addplot[cl] coordinates {(-0.8,30)(-0.8,180)(0.3,250)(1.2,200)(0.8,130)(1.5,60)(2.8,20)(2,-12)(0,-10)};
\addplot[cl] coordinates {(0.2,230)(0.7,260)(1.1,230)(0.7,200)};
\addplot[cl] coordinates {(0.8,20)(1.5,55)(2.6,55)(3.2,20)(2.4,-8)(1.2,-5)};
\end{axis}
\begin{axis}[pp, c4, r7, at={(243.5pt,-420pt)}]
\addplot[cl] coordinates {(4,0)(4.2,250)(5.5,420)(8.5,515)(11.5,500)(13.5,420)(14.2,330)(15.5,380)(18,450)(21,460)(23.3,420)(23.5,300)(23,150)(23.5,0)(22.5,-70)(17,-95)(10,-110)(6,-100)(4.3,-60)};
\addplot[cl] coordinates {(16.5,385)(17.5,430)(19.5,440)(20.5,400)(19.5,340)(17.5,345)};
\addplot[cl] coordinates {(4.6,0)(4.7,250)(6,400)(8.5,470)(11,455)(12.5,380)(13.2,250)(15,200)(19,190)(22.5,170)(22.6,50)(21.5,-40)(16,-75)(10,-90)(6,-80)(4.8,-40)};
\addplot[cl] coordinates {(5.2,0)(5.3,230)(6.3,380)(8.7,440)(10.7,425)(11.8,330)(12,200)(14,110)(18,90)(21.5,60)(21.2,-10)(16,-50)(10,-70)(6.5,-60)(5.3,-30)};
\addplot[cl] coordinates {(5.8,0)(5.9,220)(6.8,350)(8.8,400)(10.5,370)(10.7,220)(11.3,120)(14.5,50)(19,40)(19.8,0)(15,-30)(10,-55)(7,-45)};
\addplot[cl] coordinates {(6.4,0)(6.5,200)(7.3,320)(8.9,350)(10.2,290)(9.8,160)(11.5,60)(14,20)(13,-15)(10,-40)(7.3,-30)};
\addplot[cl] coordinates {(7,20)(7,200)(7.8,290)(9,300)(9.7,230)(9.2,130)(10.5,60)(11.5,20)(10.5,-25)(8,-25)(7.1,-5)};
\addplot[cl] coordinates {(7.6,30)(7.6,180)(8.4,250)(9.3,220)(8.8,130)(9.7,60)(10.5,20)(9.8,-12)(8.2,-10)};
\addplot[cl] coordinates {(8.4,260)(8.8,290)(9.2,260)(8.8,230)};
\addplot[cl] coordinates {(7.9,20)(8.4,55)(9.5,55)(10,20)(9.4,-12)(8.4,-12)};
\end{axis}
\begin{axis}[pp, c5, r7, at={(310.5pt,-420pt)}]
\addplot[cl] coordinates {(0.165,200)(0.168,420)(0.18,520)(0.2,537)(0.22,520)(0.235,420)(0.24,200)(0.238,0)(0.228,-110)(0.2,-142)(0.172,-110)(0.163,0)};
\addplot[cl] coordinates {(0.172,200)(0.175,400)(0.185,470)(0.2,480)(0.215,470)(0.226,400)(0.229,200)(0.227,0)(0.218,-90)(0.2,-112)(0.182,-90)(0.173,0)};
\addplot[cl] coordinates {(0.178,200)(0.18,380)(0.19,430)(0.2,440)(0.21,430)(0.22,380)(0.222,200)(0.22,0)(0.212,-70)(0.2,-85)(0.188,-70)(0.18,0)};
\addplot[cl] coordinates {(0.183,200)(0.185,350)(0.2,400)(0.215,350)(0.217,200)(0.215,0)(0.207,-55)(0.2,-62)(0.193,-55)(0.185,0)};
\addplot[cl] coordinates {(0.187,200)(0.189,320)(0.2,360)(0.211,320)(0.213,200)(0.211,20)(0.2,-35)(0.189,20)};
\addplot[cl] coordinates {(0.191,200)(0.193,300)(0.2,330)(0.207,300)(0.209,200)(0.207,40)(0.2,-10)(0.193,40)};
\addplot[cl] coordinates {(0.195,150)(0.196,280)(0.2,300)(0.204,280)(0.205,150)(0.204,60)(0.2,20)(0.196,60)};
\addplot[cl] coordinates {(0.293,17)(0.3,55)(0.307,17)(0.3,-22)};
\addplot[cl] coordinates {(0.395,121)(0.4,154)(0.405,121)(0.4,88)};
\end{axis}
\begin{axis}[pp, c6, r7, at={(377.5pt,-420pt)}]
\addplot[cl] coordinates {(60,10)(61,70)(66,100)(73,150)(78,250)(79,400)(82,520)(87,548)(93,520)(97,420)(98,250)(97,100)(94,0)(88,-80)(80,-131)(70,-120)(62,-70)};
\addplot[cl] coordinates {(63,10)(64,60)(70,100)(76,180)(79,350)(81,480)(87,510)(92,480)(95,380)(96,200)(95,80)(92,-10)(86,-70)(78,-105)(69,-95)(64,-50)};
\addplot[cl] coordinates {(66,10)(68,60)(73,100)(78,200)(80,370)(82,460)(87,480)(91,440)(93,300)(93,130)(90,20)(85,-50)(77,-85)(70,-75)(66,-30)};
\addplot[cl] coordinates {(68,15)(70,55)(75,90)(79,190)(81,350)(83,430)(87,450)(90,400)(91,250)(90,100)(87,20)(82,-35)(76,-65)(70,-50)};
\addplot[cl] coordinates {(70,15)(72,50)(77,90)(80,200)(82,330)(84,400)(87,410)(89,350)(89,200)(87,80)(83,10)(78,-35)(73,-40)};
\addplot[cl] coordinates {(72,20)(75,50)(79,100)(82,220)(84,340)(86.5,380)(88,300)(87,170)(84,60)(80,5)(75,-15)};
\addplot[cl] coordinates {(73,22)(76,50)(80,100)(82.8,220)(84.6,330)(86.5,350)(87.4,280)(86.5,180)(84,80)(80,18)(75.5,-5)};
\addplot[cl] coordinates {(74,25)(77,50)(80,100)(83,220)(85,320)(86.5,330)(86.5,220)(84,100)(80,30)(76,5)};
\addplot[cl] coordinates {(75,28)(78,52)(81,100)(83.5,220)(85.3,300)(86.4,300)(86,200)(83.5,100)(79.5,35)(76.5,15)};
\addplot[cl] coordinates {(76.2,30)(79,54)(82,110)(84.2,220)(85.6,270)(85.9,210)(83.5,110)(79.5,40)(77,22)};
\addplot[cl] coordinates {(76,30)(79,55)(81,60)(80,35)(77,22)};
\addplot[cl] coordinates {(84.8,300)(85.5,360)(86.2,300)(85.5,240)};
\addplot[cl] coordinates {(49.4,125)(50.7,147)(52,125)(50.7,103)};
\end{axis}
\begin{axis}[dg, c7, at={(444.5pt,-420pt)}]
\addplot[kd] coordinates {(-180,0)(-149,0)(-125,6)(-101,17.7)(-65,44)(-29,77.7)(-5,104)(27,111.7)(50,102)(67,91)(85,77)(103,64)(120,59)(139,57.7)(187,57.7)(220,58.5)(247,59)(280,55.5)(307,51)(345,44)(380,37.7)(428,24)(455,14)(476,7.7)(500,2.5)(524,0)(606,0)} \closedcycle;
\end{axis}
% ---------- Row 8
\begin{axis}[pp, c1, r8, at={(42.5pt,-489.5pt)}, ylabel={RATIO\_S}, yticklabels={0,250,500}, xlabel={MAG}, xticklabels={0,5}]
\addplot[cl] coordinates {(0.23,53)(0.73,128)(2.25,166)(3.5,204)(3.64,336)(4.14,430)(4.77,393)(5.0,260)(5.76,204)(6.1,147)(6.9,72)(6.8,-41)(5.27,-88)(2.75,-79)(0.73,-41)};
\addplot[cl] coordinates {(3.8,340)(4.1,385)(4.6,380)(4.9,300)(4.5,285)(3.9,300)};
\addplot[cl] coordinates {(0.8,40)(1.5,110)(2.5,155)(3.6,180)(4.7,180)(5.6,160)(6.5,90)(6.6,-10)(6,-60)(4.5,-75)(2.5,-65)(1.2,-30)};
\addplot[cl] coordinates {(1.3,40)(2,95)(3,130)(4.2,140)(5.3,130)(6.2,80)(6.4,0)(5.8,-50)(4.5,-60)(2.8,-50)(1.6,-20)};
\addplot[cl] coordinates {(1.8,40)(2.6,85)(3.6,105)(4.8,105)(5.9,75)(6.3,10)(5.8,-40)(4.5,-50)(3,-40)(2,-10)};
\addplot[cl] coordinates {(2.3,35)(3,70)(4,80)(5.2,80)(6,55)(6.1,5)(5.6,-30)(4.4,-38)(3.2,-30)(2.4,0)};
\addplot[cl] coordinates {(2.55,32)(3.3,62)(4.3,68)(5.4,68)(5.95,42)(5.95,3)(5.45,-25)(4.35,-32)(3.3,-22)(2.6,0)};
\addplot[cl] coordinates {(2.8,30)(3.5,55)(4.5,58)(5.5,55)(5.9,30)(5.8,0)(5.3,-20)(4.3,-25)(3.4,-15)};
\addplot[cl] coordinates {(3.05,28)(3.8,48)(4.7,50)(5.6,48)(5.85,25)(5.65,0)(4.9,-14)(4,-12)(3.2,-5)};
\addplot[cl] coordinates {(3.3,25)(4,42)(4.8,40)(5.6,40)(5.8,20)(5.5,0)(4.6,-8)(3.7,0)};
\addplot[cl] coordinates {(4.0,22)(4.4,32)(4.8,22)(4.4,12)};
\addplot[cl] coordinates {(5.0,20)(5.4,32)(5.8,22)(5.4,10)};
\end{axis}
\begin{axis}[pp, c2, r8, at={(109.5pt,-489.5pt)}, xlabel={DIST}, xticklabels={0,10000}]
\addplot[cl] coordinates {(-2000,200)(-1800,380)(-800,460)(800,440)(1900,380)(2500,300)(1900,240)(2000,170)(3800,128)(5100,53)(4800,-30)(3200,-75)(1000,-85)(-1200,-70)(-2400,0)(-2200,100)};
\addplot[cl] coordinates {(-500,310)(500,383)(1500,310)(500,242)};
\addplot[cl] coordinates {(-1900,60)(-1600,130)(-700,220)(600,235)(1500,150)(3200,80)(4000,10)(3400,-50)(1200,-65)(-1000,-55)};
\addplot[cl] coordinates {(-1300,60)(-900,120)(300,150)(1800,100)(3000,40)(2700,-20)(1200,-45)(-600,-40)};
\addplot[cl] coordinates {(-900,50)(-400,100)(600,110)(1900,60)(2200,10)(1400,-25)(0,-25)(-800,0)};
\addplot[cl] coordinates {(-500,40)(0,80)(900,80)(1700,40)(1500,0)(600,-15)(-300,0)};
\addplot[cl] coordinates {(-200,30)(300,60)(1000,55)(1400,25)(900,-5)(100,0)};
\addplot[cl] coordinates {(200,25)(600,42)(1100,30)(800,8)(300,10)};
\addplot[cl] coordinates {(7150,279)(7250,288)(7350,279)(7250,270)};
\addplot[cl] coordinates {(8400,240)(8900,330)(9700,320)(9800,250)(9300,200)(9200,166)(8600,180)};
\addplot[cl] coordinates {(14800,67)(15350,119)(15900,67)(15350,15)};
\end{axis}
\begin{axis}[pp, c3, r8, at={(176.5pt,-489.5pt)}, xlabel={HIGHPASS}, xticklabels={0,20}]
\addplot[cl] coordinates {(-0.4,300)(0.5,390)(2.75,430)(5.5,405)(7.1,355)(7.5,280)(8.6,222)(11.4,147)(15,125)(16.9,109)(18,15)(15.3,-51)(7.5,-70)(0,-65)(-2,-60)(-3.9,24)(-2.4,128)(0.4,204)};
\addplot[cl] coordinates {(0.5,320)(1.5,370)(3.5,375)(4.7,320)(3.5,262)(1.5,262)};
\addplot[cl] coordinates {(-3.3,30)(-2,110)(0,150)(3,190)(6.5,180)(9,155)(13,120)(16.5,90)(17,20)(15,-35)(8,-55)(0,-55)(-2.5,-40)};
\addplot[cl] coordinates {(-2.8,30)(-1.5,90)(1,130)(4,150)(7,140)(10,105)(15,85)(16,20)(14,-25)(8,-45)(0,-45)(-2.3,-25)};
\addplot[cl] coordinates {(-2.2,30)(-1,80)(1.5,105)(4.5,110)(7.5,90)(11,70)(14.8,60)(15.2,15)(13,-12)(8,-32)(0,-35)(-1.8,-15)};
\addplot[cl] coordinates {(-1.6,28)(-0.5,65)(1.8,80)(4.5,78)(7.5,55)(10,45)(13.5,45)(14,10)(12,-5)(7.5,-20)(1,-25)(-1.2,-8)};
\addplot[cl] coordinates {(-0.9,25)(0,50)(2,60)(4.5,55)(6.5,35)(5.5,0)(2,-12)(-0.5,0)};
\addplot[cl] coordinates {(-0.2,22)(0.7,40)(2,45)(3.8,35)(4,15)(2.5,0)(0.5,5)};
\addplot[cl] coordinates {(0.5,22)(1.2,32)(2.2,30)(2.6,20)(1.6,12)(0.7,14)};
\addplot[cl] coordinates {(11.5,20)(12.5,35)(14,35)(14.3,22)(13,12)(11.8,13)};
\end{axis}
\begin{axis}[pp, c4, r8, at={(243.5pt,-489.5pt)}, xlabel={LOWPASS}, xticklabels={10,20}]
\addplot[cl] coordinates {(5.2,310)(6.5,400)(8.7,430)(11,400)(12.8,340)(12.5,280)(13.5,220)(16,150)(20,130)(23,100)(23.4,10)(21,-45)(14,-70)(6,-70)(4.2,-50)(3.4,30)(4.2,120)(6.2,200)};
\addplot[cl] coordinates {(6.3,330)(7.5,385)(9.5,390)(10.7,330)(9.7,270)(8.8,235)(7.8,270)};
\addplot[cl] coordinates {(8.7,320)(8.9,328)(9.2,320)(8.9,312)};
\addplot[cl] coordinates {(3.9,30)(5,110)(7.5,170)(8.8,230)(10,170)(13,150)(17,120)(21.7,90)(22.2,15)(20,-35)(14,-55)(6.5,-58)(4.4,-35)};
\addplot[cl] coordinates {(4.5,30)(5.5,95)(8.8,130)(12.5,115)(17,95)(21,70)(21.2,15)(19,-25)(13,-45)(7,-47)(5,-25)};
\addplot[cl] coordinates {(5,28)(6,80)(8.9,100)(12,90)(16,70)(20,55)(20.2,15)(17,-12)(12,-32)(7,-37)(5.5,-15)};
\addplot[cl] coordinates {(5.6,25)(6.5,60)(9,75)(12,62)(13,40)(18,40)(19,10)(16,-3)(11,-20)(7.5,-27)(6,-8)};
\addplot[cl] coordinates {(6.3,22)(7,45)(9,55)(11,45)(11.7,20)(10.5,0)(8,-12)(6.6,0)};
\addplot[cl] coordinates {(7,20)(7.8,35)(9.2,38)(10.5,28)(10.5,12)(9,2)(7.5,5)};
\addplot[cl] coordinates {(7.8,20)(8.5,28)(9.5,27)(9.8,18)(9,11)(8.1,13)};
\addplot[cl] coordinates {(17,20)(18,35)(20,33)(20.3,20)(19,12)(17.5,12)};
\end{axis}
\begin{axis}[pp, c5, r8, at={(310.5pt,-489.5pt)}, xlabel={STA}, xticklabels={0.2,0.4}]
\addplot[cl] coordinates {(0.165,50)(0.17,200)(0.175,380)(0.185,430)(0.2,440)(0.215,430)(0.225,380)(0.228,200)(0.232,100)(0.24,30)(0.235,-50)(0.22,-85)(0.2,-89)(0.18,-85)(0.166,-50)};
\addplot[cl] coordinates {(0.189,310)(0.191,370)(0.2,385)(0.209,370)(0.211,310)(0.207,255)(0.2,245)(0.193,255)};
\addplot[cl] coordinates {(0.173,50)(0.176,160)(0.183,220)(0.2,235)(0.217,220)(0.224,160)(0.227,50)(0.222,-45)(0.2,-65)(0.178,-45)};
\addplot[cl] coordinates {(0.178,40)(0.18,120)(0.188,180)(0.2,200)(0.212,180)(0.22,120)(0.222,40)(0.217,-35)(0.2,-50)(0.183,-35)};
\addplot[cl] coordinates {(0.183,35)(0.186,100)(0.2,130)(0.214,100)(0.217,35)(0.212,-20)(0.2,-35)(0.188,-20)};
\addplot[cl] coordinates {(0.187,30)(0.19,80)(0.2,95)(0.21,80)(0.213,30)(0.209,-10)(0.2,-20)(0.191,-10)};
\addplot[cl] coordinates {(0.191,25)(0.194,60)(0.2,70)(0.206,60)(0.209,25)(0.206,0)(0.2,-8)(0.194,0)};
\addplot[cl] coordinates {(0.195,25)(0.197,45)(0.2,50)(0.203,45)(0.205,25)(0.2,8)};
\addplot[cl] coordinates {(0.286,6)(0.3,53)(0.316,6)(0.3,-41)};
\end{axis}
\begin{axis}[pp, c6, r8, at={(377.5pt,-489.5pt)}, xlabel={LTA}, xticklabels={50,100}]
\addplot[cl] coordinates {(60,20)(61,70)(65,100)(72,110)(79,120)(80,250)(80.5,380)(83,430)(86,440)(89,430)(91,380)(91,250)(92,150)(96,90)(98,30)(97,-40)(92,-75)(80,-88)(68,-75)(61,-40)};
\addplot[cl] coordinates {(83,310)(83.5,360)(86.5,375)(89,360)(90,310)(88.5,260)(86.5,245)(84,260)};
\addplot[cl] coordinates {(85.5,320)(86.3,345)(87.2,320)(86.3,290)};
\addplot[cl] coordinates {(63,20)(64,65)(68,85)(75,95)(80,105)(81.5,200)(84,230)(86.5,225)(89,200)(90,140)(93,80)(95,25)(93,-40)(88,-62)(78,-70)(68,-60)(64,-30)};
\addplot[cl] coordinates {(66,20)(67,55)(72,75)(79,82)(84,95)(89,90)(91.5,60)(92.5,20)(91,-30)(86,-50)(76,-55)(68,-45)};
\addplot[cl] coordinates {(68,20)(69,50)(74,62)(80,68)(85,75)(90,60)(91,20)(89,-25)(84,-40)(75,-43)(70,-30)};
\addplot[cl] coordinates {(70,20)(71,45)(76,53)(82,55)(87,55)(89.5,40)(90,15)(88,-15)(83,-30)(76,-30)(71,-15)};
\addplot[cl] coordinates {(73,20)(74,38)(78,43)(84,45)(88,38)(89,15)(87,-5)(82,-18)(76,-18)};
\addplot[cl] coordinates {(76,20)(79,33)(84,36)(87.5,28)(88,12)(85,-2)(80,-5)};
\addplot[cl] coordinates {(78.5,21)(81,32)(84.5,34)(87.3,26)(87.5,13)(85,3)(81,2)};
\addplot[cl] coordinates {(80.5,22)(82.5,31)(85.5,31)(87.2,24)(86.8,14)(84.5,7)(82,9)};
\addplot[cl] coordinates {(82.5,22)(84.5,32)(87,26)(86.5,14)(84,12)};
\end{axis}
\begin{axis}[pp, c7, r8, at={(444.5pt,-489.5pt)}, xlabel={RATIO\_P}, xticklabels={0,500}]
\addplot[cl] coordinates {(-149,34)(-77,147)(43,241)(139,279)(235,355)(355,421)(440,430)(464,355)(428,260)(404,204)(464,222)(476,166)(512,53)(476,-4)(187,-51)(-5,-98)(-125,-70)};
\addplot[cl] coordinates {(-120,30)(-90,110)(0,200)(120,250)(230,320)(340,395)(430,405)(445,350)(400,260)(380,190)(440,185)(455,100)(430,20)(350,0)(180,-30)(0,-70)(-100,-55)};
\addplot[cl] coordinates {(-95,25)(-60,95)(30,170)(140,215)(260,280)(320,340)(380,350)(390,290)(330,230)(320,160)(370,120)(380,60)(320,30)(180,0)(30,-50)(-80,-45)};
\addplot[cl] coordinates {(-70,20)(-30,80)(60,140)(160,170)(250,200)(320,190)(350,130)(340,80)(260,60)(160,30)(40,-30)(-60,-35)};
\addplot[cl] coordinates {(-45,20)(0,70)(80,110)(180,130)(280,120)(320,80)(260,60)(150,40)(50,-15)(-40,-25)};
\addplot[cl] coordinates {(-20,20)(20,60)(90,85)(160,80)(150,50)(80,20)(20,-8)(-20,0)};
\addplot[cl] coordinates {(5,25)(40,50)(80,55)(90,30)(50,8)(10,8)};
\addplot[cl] coordinates {(283,300)(300,335)(335,340)(345,310)(320,275)(290,275)};
\addplot[cl] coordinates {(140,25)(200,40)(280,35)(285,15)(200,8)(145,12)};
\end{axis}
\begin{axis}[dg, c8, at={(511.5pt,-489.5pt)}, xlabel={RATIO\_S}, xticklabels={0,500}]
\addplot[kd] coordinates {(-136,0)(-102,0)(-80,5)(-59,16.7)(-40,40)(-27,66.7)(-2,103)(19,111.7)(35,102)(47,90)(62,65)(79,40)(100,24)(121,16.7)(150,13.5)(185,11.7)(210,10)(239,8.3)(270,10.5)(302,13.3)(330,11)(355,8.3)(385,5)(419,2.7)(450,1)(483,0)(559,0)} \closedcycle;
\end{axis}
\end{tikzpicture}
\end{document}
